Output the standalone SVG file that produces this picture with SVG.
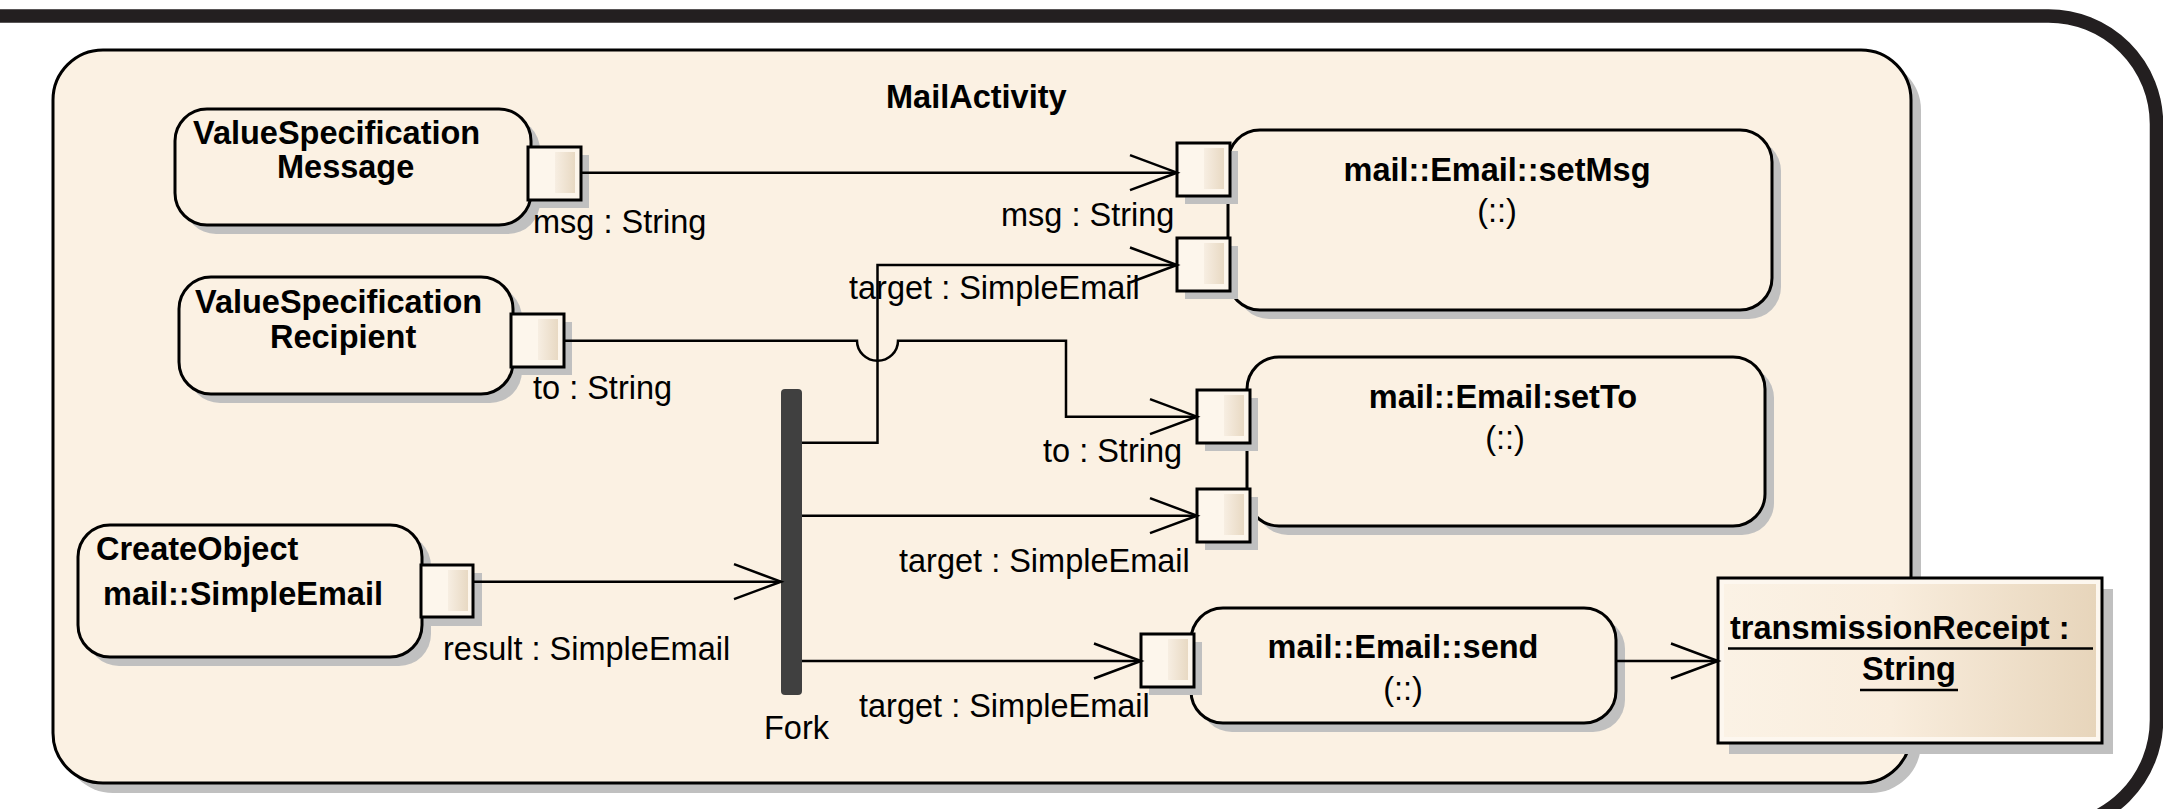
<svg xmlns="http://www.w3.org/2000/svg" width="2163" height="809" viewBox="0 0 2163 809">
  <style>
    .frame { fill: none; stroke: #231f20; stroke-width: 13.5; }
    .act { fill: #fbf1e3; stroke: #000; stroke-width: 3; }
    .node { fill: #fbf1e3; stroke: #000; stroke-width: 3; }
    .shadow { fill: #c0c0c0; }
    .port { fill: #fdf6ec; stroke: #000; stroke-width: 3; }
    .strip { fill: url(#portStrip); }
    .fork { fill: #404040; }
    .b { font-family: "Liberation Sans", Arial, sans-serif; font-weight: bold; font-size: 32.5px; fill: #000; }
    .r { font-family: "Liberation Sans", Arial, sans-serif; font-size: 32.5px; fill: #000; }
    .mid { text-anchor: middle; }
    .edge { fill: none; stroke: #000; stroke-width: 2.5; marker-end: url(#arrow); }
    .uline { stroke: #000; stroke-width: 2.6; }
  </style>
  <defs>
    <linearGradient id="portStrip" x1="0" y1="0" x2="1" y2="0">
      <stop offset="0" stop-color="#f7eee2"/>
      <stop offset="1" stop-color="#e8d9c3"/>
    </linearGradient>
    <linearGradient id="objFill" x1="0" y1="0" x2="1" y2="0">
      <stop offset="0" stop-color="#fbf2e5"/>
      <stop offset="0.45" stop-color="#f9eddd"/>
      <stop offset="1" stop-color="#e7d5bb"/>
    </linearGradient>
    <marker id="arrow" markerUnits="userSpaceOnUse" viewBox="-50 -20 54 40" markerWidth="54" markerHeight="40" refX="0" refY="0" orient="auto">
      <path d="M -47 -17.5 L 0 0 L -47 17.5" fill="none" stroke="#000" stroke-width="2.5"/>
    </marker>
  </defs>

  <rect x="0" y="0" width="2163" height="809" fill="#fff"/>

  <!-- outer frame, partly outside the canvas -->
  <path class="frame" d="M -30 16 H 2048.5 A 108 108 0 0 1 2156.5 124 V 720 A 108 108 0 0 1 2048.5 828 H -30"/>

  <!-- activity frame -->
  <g id="MailActivity">
    <rect class="shadow" x="63" y="60" width="1858" height="733" rx="50"/>
    <rect class="act" x="53" y="50" width="1858" height="733" rx="50"/>
    <text class="b" x="886" y="108">MailActivity</text>
  </g>

  <g id="ValueSpecificationMessage">
    <rect class="shadow" x="184" y="118" width="356" height="116" rx="32"/>
    <rect class="node" x="175" y="109" width="356" height="116" rx="32"/>
    <text class="b" x="193" y="144">ValueSpecification</text>
    <text class="b" x="277" y="178">Message</text>
    <rect class="shadow" x="536" y="155" width="53" height="53"/>
    <rect class="port" x="528" y="147" width="53" height="53"/>
    <rect class="strip" x="555" y="152" width="20" height="41"/>
  </g>

  <g id="ValueSpecificationRecipient">
    <rect class="shadow" x="188" y="286" width="334" height="117" rx="32"/>
    <rect class="node" x="179" y="277" width="334" height="117" rx="32"/>
    <text class="b" x="195" y="313">ValueSpecification</text>
    <text class="b" x="270" y="348">Recipient</text>
    <rect class="shadow" x="519" y="322" width="53" height="53"/>
    <rect class="port" x="511" y="314" width="53" height="53"/>
    <rect class="strip" x="538" y="319" width="20" height="41"/>
  </g>

  <g id="CreateObject">
    <rect class="shadow" x="87" y="534" width="344" height="132" rx="32"/>
    <rect class="node" x="78" y="525" width="344" height="132" rx="32"/>
    <text class="b" x="96" y="560">CreateObject</text>
    <text class="b" x="103" y="605">mail::SimpleEmail</text>
    <rect class="shadow" x="429" y="573" width="53" height="53"/>
    <rect class="port" x="421" y="565" width="52" height="52"/>
    <rect class="strip" x="448" y="570" width="20" height="41"/>
  </g>

  <g id="Fork">
    <rect class="fork" x="781" y="389" width="21" height="306" rx="4"/>
    <text class="r" x="764" y="739">Fork</text>
  </g>

  <g id="setMsg">
    <rect class="shadow" x="1237" y="139" width="544" height="180" rx="32"/>
    <rect class="node" x="1228" y="130" width="544" height="180" rx="32"/>
    <text class="b mid" x="1497" y="181">mail::Email::setMsg</text>
    <text class="r mid" x="1497" y="222">(::)</text>
    <rect class="shadow" x="1185" y="151" width="53" height="53"/>
    <rect class="port" x="1177" y="143" width="53" height="53"/>
    <rect class="strip" x="1204" y="148" width="20" height="41"/>
    <rect class="shadow" x="1185" y="246" width="53" height="53"/>
    <rect class="port" x="1177" y="238" width="53" height="53"/>
    <rect class="strip" x="1204" y="243" width="20" height="41"/>
  </g>

  <g id="setTo">
    <rect class="shadow" x="1256" y="366" width="518" height="169" rx="32"/>
    <rect class="node" x="1247" y="357" width="518" height="169" rx="32"/>
    <text class="b mid" x="1503" y="408">mail::Email:setTo</text>
    <text class="r mid" x="1505" y="449">(::)</text>
    <rect class="shadow" x="1205" y="398" width="53" height="53"/>
    <rect class="port" x="1197" y="390" width="53" height="53"/>
    <rect class="strip" x="1224" y="395" width="20" height="41"/>
    <rect class="shadow" x="1205" y="497" width="53" height="53"/>
    <rect class="port" x="1197" y="489" width="53" height="53"/>
    <rect class="strip" x="1224" y="494" width="20" height="41"/>
  </g>

  <g id="send">
    <rect class="shadow" x="1200" y="617" width="425" height="115" rx="32"/>
    <rect class="node" x="1191" y="608" width="425" height="115" rx="32"/>
    <text class="b mid" x="1403" y="658">mail::Email::send</text>
    <text class="r mid" x="1403" y="700">(::)</text>
    <rect class="shadow" x="1149" y="642" width="53" height="53"/>
    <rect class="port" x="1141" y="634" width="53" height="53"/>
    <rect class="strip" x="1168" y="639" width="20" height="41"/>
  </g>

  <g id="transmissionReceipt">
    <rect class="shadow" x="1729" y="589" width="384" height="165"/>
    <rect x="1718" y="578" width="384" height="165" fill="#fdf7ef" stroke="#000" stroke-width="3"/>
    <rect x="1724" y="584" width="372" height="153" fill="url(#objFill)"/>
    <text class="b" x="1730" y="639">transmissionReceipt :</text>
    <line class="uline" x1="1728" y1="648.5" x2="2093" y2="648.5"/>
    <text class="b" x="1862" y="680">String</text>
    <line class="uline" x1="1860" y1="690" x2="1958" y2="690"/>
  </g>

  <!-- object flows -->
  <g id="connectors">
    <path class="edge" d="M 581 172.7 H 1177"/>
    <path class="edge" d="M 802 442.7 H 877.5 V 265 H 1177"/>
    <path class="edge" d="M 564 340.7 H 857 A 20.5 20 0 0 0 898 340.7 H 1066 V 416.7 H 1197"/>
    <path class="edge" d="M 802 515.7 H 1197"/>
    <path class="edge" d="M 473 581.7 H 781"/>
    <path class="edge" d="M 802 661 H 1141"/>
    <path class="edge" d="M 1616 661 H 1718"/>
  </g>

  <!-- pin labels -->
  <g id="labels">
    <text class="r" x="533" y="233">msg : String</text>
    <text class="r" x="533" y="399">to : String</text>
    <text class="r" x="443" y="660">result : SimpleEmail</text>
    <text class="r" x="1001" y="226">msg : String</text>
    <text class="r" x="849" y="299">target : SimpleEmail</text>
    <text class="r" x="1043" y="462">to : String</text>
    <text class="r" x="899" y="572">target : SimpleEmail</text>
    <text class="r" x="859" y="717">target : SimpleEmail</text>
  </g>
</svg>
